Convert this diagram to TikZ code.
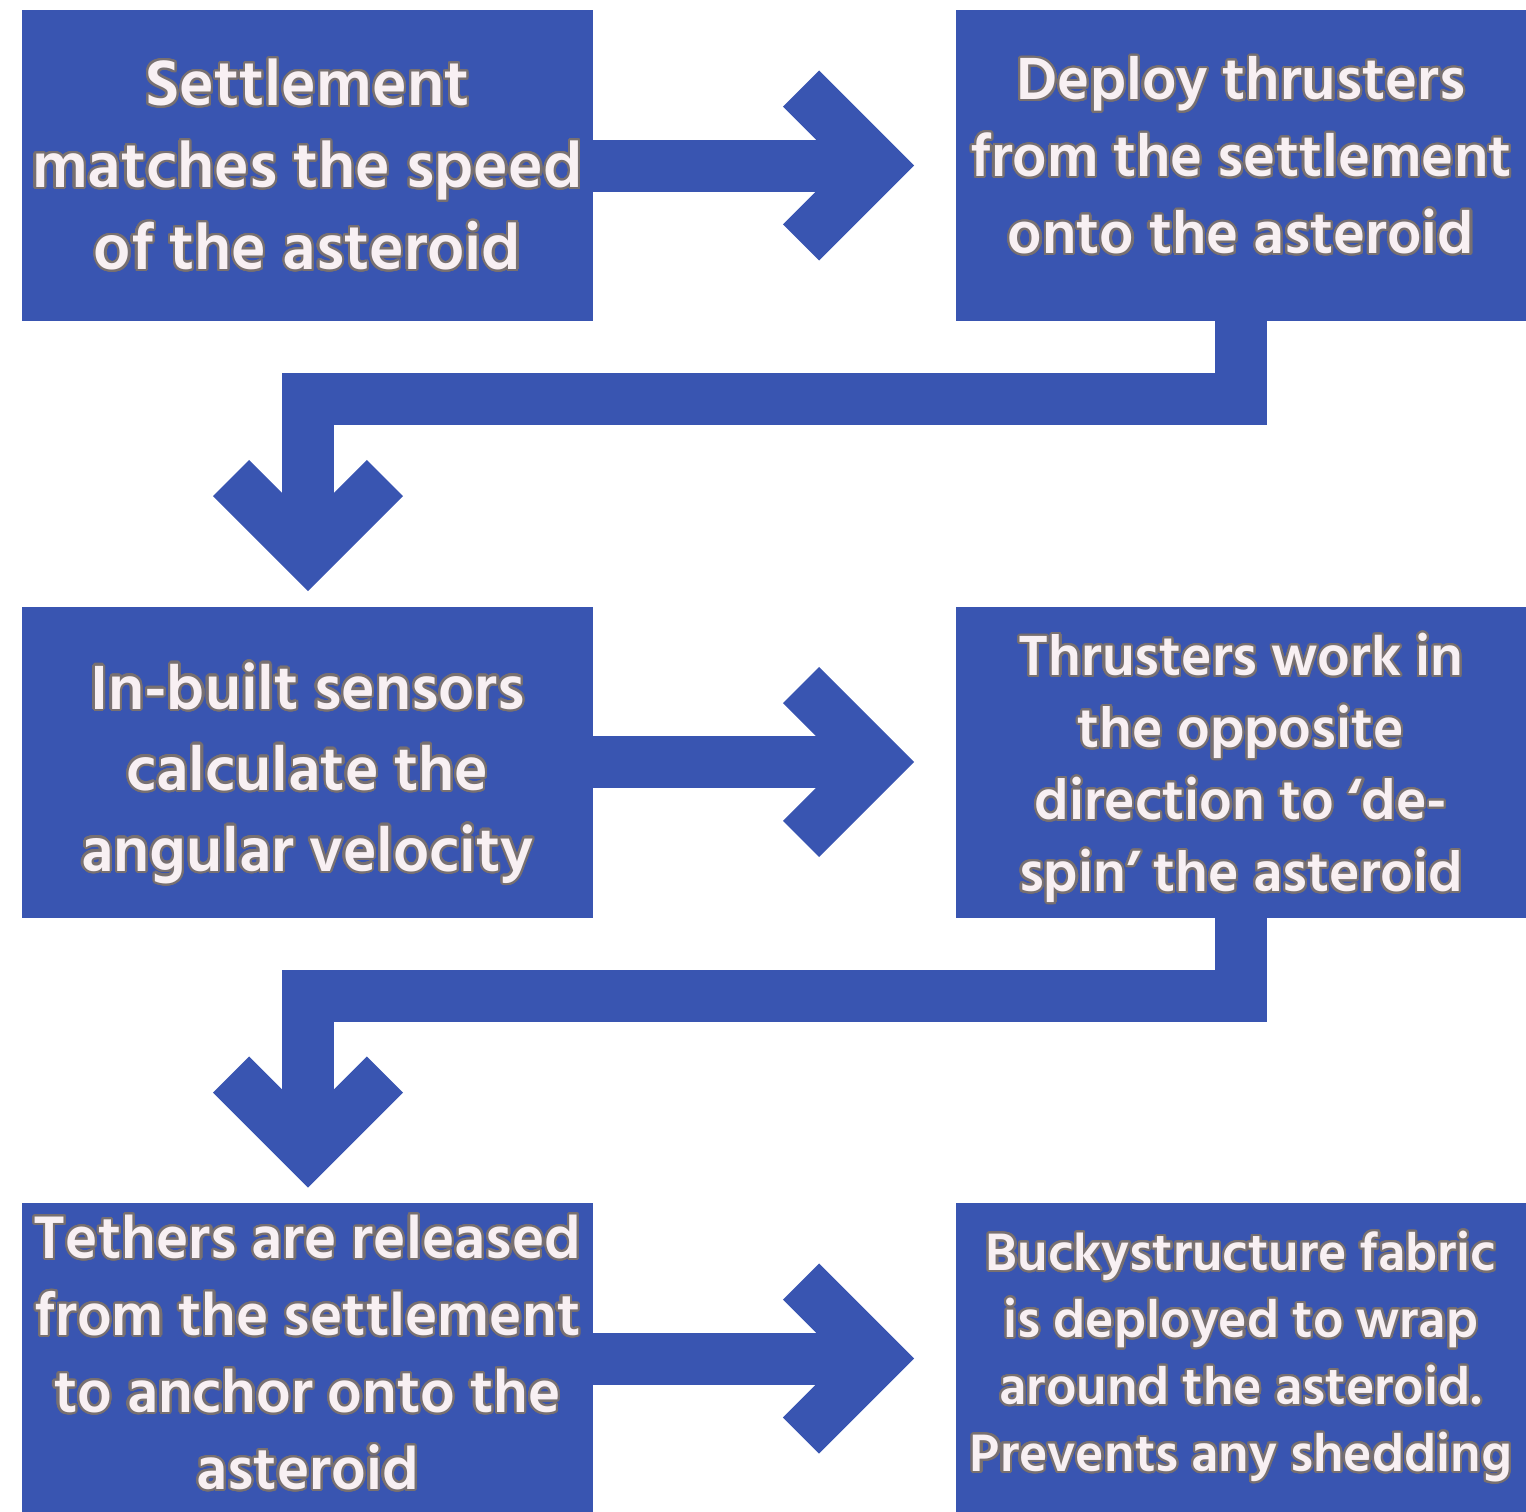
\documentclass[tikz,border=0pt]{standalone}
\usepackage{fontspec}
\setmainfont{Hind Siliguri}
\usepackage[copies]{contour}
\definecolor{boxblue}{HTML}{3955B1}
\definecolor{txtfill}{HTML}{F8F0F3}
\definecolor{txtedge}{HTML}{787070}
\contourlength{2.2pt}
\contournumber{32}
\newcommand{\olt}[1]{\contour{txtedge}{#1}}

\begin{document}
\begin{tikzpicture}[x=1pt, y=-1pt,
    stepbox/.style={rectangle, fill=boxblue, minimum width=571pt, minimum height=311pt, inner sep=0pt},
    steptext/.style={align=center, inner sep=0pt, text=txtfill},
    shaft/.style={draw=boxblue, line width=52pt},
    chev/.style={draw=boxblue, line width=51pt, line join=miter}
]
    \useasboundingbox (0,0) rectangle (1526,1512);

    \node[stepbox] (settle) at (307.5,165.5) {};
    \node[stepbox] (deploy) at (1241,165.5) {};
    \node[stepbox] (sensors) at (307.5,762) {};
    \node[stepbox] (despin) at (1241,762) {};
    \node[stepbox] (tethers) at (307.5,1358.5) {};
    \node[stepbox] (fabric) at (1241,1358.5) {};

    \node[steptext, font=\fontsize{66}{82}\selectfont\bfseries] (settletxt) at (settle.center)
        {\olt{Settlement}\\ \olt{matches the speed}\\ \olt{of the asteroid}};
    \node[steptext, font=\fontsize{61}{77}\selectfont\bfseries] (deploytxt) at ([yshift=9pt]deploy.center)
        {\olt{Deploy thrusters}\\ \olt{from the settlement}\\ \olt{onto the asteroid}};
    \node[steptext, font=\fontsize{64}{81}\selectfont\bfseries] (sensorstxt) at ([yshift=-12pt]sensors.center)
        {\olt{In-built sensors}\\ \olt{calculate the}\\ \olt{angular velocity}};
    \node[steptext, font=\fontsize{58}{72}\selectfont\bfseries] (despintxt) at ([yshift=-7pt]despin.center)
        {\olt{Thrusters work in}\\ \olt{the opposite}\\ \olt{direction to ‘de-}\\ \olt{spin’ the asteroid}};
    \node[steptext, font=\fontsize{61.5}{77}\selectfont\bfseries] (tetherstxt) at ([yshift=5pt]tethers.center)
        {\olt{Tethers are released}\\ \olt{from the settlement}\\ \olt{to anchor onto the}\\ \olt{asteroid}};
    \node[steptext, font=\fontsize{54}{67}\selectfont\bfseries] (fabrictxt) at ([yshift=1pt]fabric.center)
        {\olt{Buckystructure fabric}\\ \olt{is deployed to wrap}\\ \olt{around the asteroid.}\\ \olt{Prevents any shedding}};

    \coordinate (tipA) at (878,165.5);
    \coordinate (tipB) at (308,555);
    \coordinate (tipC) at (878,762);
    \coordinate (tipD) at (308,1151.5);
    \coordinate (tipE) at (878,1358.5);

    % rightward arrows
    \draw[shaft] (settle.east) -- (tipA);
    \draw[chev] (tipA) ++(-77,-77) -- (tipA) -- ++(-77,77);
    \draw[shaft] (sensors.east) -- (tipC);
    \draw[chev] (tipC) ++(-77,-77) -- (tipC) -- ++(-77,77);
    \draw[shaft] (tethers.east) -- (tipE);
    \draw[chev] (tipE) ++(-77,-77) -- (tipE) -- ++(-77,77);

    % elbows down to the next row
    \draw[shaft] (deploy.south) -- ++(0,78) -| (tipB);
    \draw[chev] (tipB) ++(-77,-77) -- (tipB) -- ++(77,-77);
    \draw[shaft] (despin.south) -- ++(0,78) -| (tipD);
    \draw[chev] (tipD) ++(-77,-77) -- (tipD) -- ++(77,-77);
\end{tikzpicture}
\end{document}
